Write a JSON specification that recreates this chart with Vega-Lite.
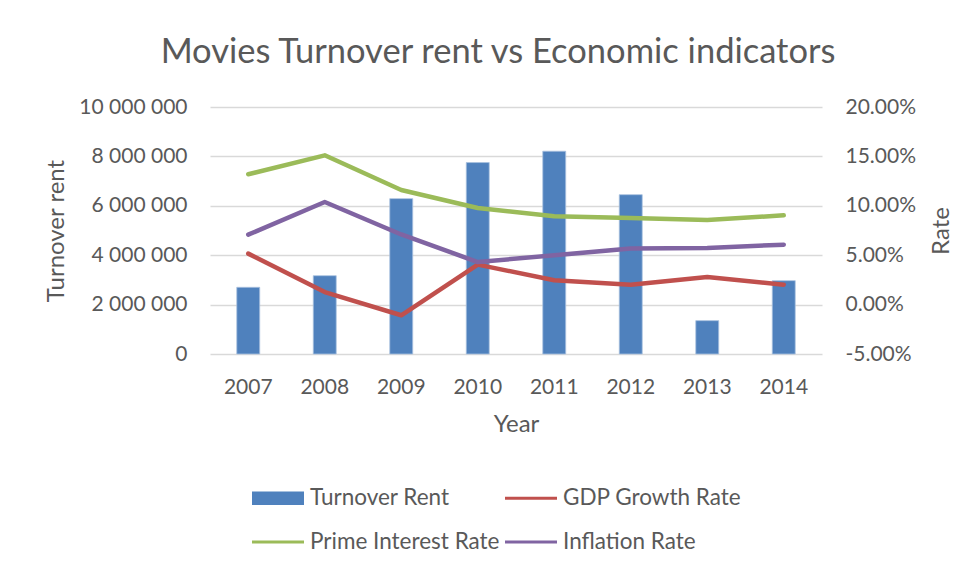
{
  "$schema": "https://vega.github.io/schema/vega-lite/v6.json",
  "width": 612,
  "height": 247,
  "autosize": {"type": "none"},
  "padding": {"left": 210, "top": 107, "right": 154, "bottom": 218},
  "background": "white",
  "title": {
    "text": "Movies Turnover rent vs Economic indicators",
    "font": "Lato",
    "fontSize": 34.5,
    "fontWeight": "normal",
    "color": "#595959",
    "anchor": "middle",
    "frame": "group",
    "offset": 26,
    "dx": -18
  },
  "config": {
    "locale": {
      "number": {"decimal": ".", "thousands": " ", "grouping": [3], "currency": ["$", ""], "minus": "-"}
    },
    "view": {"stroke": null},
    "axis": {
      "labelFont": "Lato",
      "labelFontSize": 21,
      "labelColor": "#595959",
      "titleFont": "Lato",
      "titleFontSize": 24,
      "titleFontWeight": "normal",
      "titleColor": "#595959",
      "domain": false,
      "ticks": false,
      "gridColor": "#D9D9D9",
      "gridWidth": 1.3
    },
    "legend": {
      "title": null,
      "orient": "none",
      "legendX": 42,
      "legendY": 365,
      "columns": 2,
      "direction": "horizontal",
      "padding": 0,
      "symbolSize": 2704,
      "labelFont": "Lato",
      "labelFontSize": 22.5,
      "labelColor": "#595959",
      "labelOffset": 6,
      "labelLimit": 400,
      "columnPadding": 5,
      "rowPadding": 6
    }
  },
  "data": {
    "values": [
      {"Year": "2007", "Turnover Rent": 2700000, "GDP Growth Rate": 0.0516, "Prime Interest Rate": 0.1319, "Inflation Rate": 0.0708},
      {"Year": "2008", "Turnover Rent": 3170000, "GDP Growth Rate": 0.0127, "Prime Interest Rate": 0.1511, "Inflation Rate": 0.1038},
      {"Year": "2009", "Turnover Rent": 6290000, "GDP Growth Rate": -0.0108, "Prime Interest Rate": 0.116, "Inflation Rate": 0.071},
      {"Year": "2010", "Turnover Rent": 7750000, "GDP Growth Rate": 0.0405, "Prime Interest Rate": 0.0978, "Inflation Rate": 0.0431},
      {"Year": "2011", "Turnover Rent": 8210000, "GDP Growth Rate": 0.0246, "Prime Interest Rate": 0.0894, "Inflation Rate": 0.0499},
      {"Year": "2012", "Turnover Rent": 6450000, "GDP Growth Rate": 0.0202, "Prime Interest Rate": 0.0877, "Inflation Rate": 0.0567},
      {"Year": "2013", "Turnover Rent": 1350000, "GDP Growth Rate": 0.0279, "Prime Interest Rate": 0.0856, "Inflation Rate": 0.0573},
      {"Year": "2014", "Turnover Rent": 2970000, "GDP Growth Rate": 0.0202, "Prime Interest Rate": 0.0904, "Inflation Rate": 0.0607}
    ]
  },
  "encoding": {
    "x": {
      "field": "Year",
      "type": "ordinal",
      "scale": {"paddingInner": 0.7, "paddingOuter": 0.35},
      "axis": {"title": "Year", "labelAngle": 0, "labelPadding": 22, "titlePadding": 15, "grid": false}
    }
  },
  "layer": [
    {
      "mark": {"type": "bar", "stroke": "#A9C1E0", "strokeWidth": 0.8},
      "encoding": {
        "y": {
          "field": "Turnover Rent",
          "type": "quantitative",
          "scale": {"domain": [0, 10000000]},
          "axis": {
            "title": "Turnover rent",
            "values": [0, 2000000, 4000000, 6000000, 8000000, 10000000],
            "format": ",.0f",
            "labelPadding": 23,
            "titlePadding": 10,
            "grid": true
          }
        },
        "color": {
          "datum": "Turnover Rent",
          "type": "nominal",
          "scale": {
            "domain": ["Turnover Rent", "GDP Growth Rate", "Prime Interest Rate", "Inflation Rate"],
            "range": ["#4F81BD", "#C0504D", "#9BBB59", "#8064A2"]
          },
          "legend": {
            "title": null,
            "encode": {
              "symbols": {
                "update": {
                  "shape": {"signal": "datum.label === 'Turnover Rent' ? 'M-1,-0.26H1V0.26H-1Z' : 'M-1,-0.056H1V0.056H-1Z'"},
                  "fill": {"scale": "color", "field": "value"},
                  "stroke": {"value": "transparent"},
                  "strokeWidth": {"value": 0},
                  "opacity": {"value": 1}
                }
              }
            }
          }
        }
      }
    },
    {
      "transform": [{"fold": ["GDP Growth Rate", "Prime Interest Rate", "Inflation Rate"], "as": ["Series", "Rate"]}],
      "mark": {"type": "line", "interpolate": "linear", "strokeWidth": 4.5, "strokeCap": "round", "strokeJoin": "round"},
      "encoding": {
        "y": {
          "field": "Rate",
          "type": "quantitative",
          "scale": {"domain": [-0.05, 0.2]},
          "axis": {
            "orient": "right",
            "title": "Rate",
            "titleAngle": 270,
            "values": [-0.05, 0, 0.05, 0.1, 0.15, 0.2],
            "format": ".2%",
            "labelPadding": 23,
            "titlePadding": 38,
            "grid": false
          }
        },
        "color": {
          "field": "Series",
          "type": "nominal",
          "legend": {
            "title": null,
            "encode": {
              "symbols": {
                "update": {
                  "shape": {"signal": "datum.label === 'Turnover Rent' ? 'M-1,-0.26H1V0.26H-1Z' : 'M-1,-0.056H1V0.056H-1Z'"},
                  "fill": {"scale": "color", "field": "value"},
                  "stroke": {"value": "transparent"},
                  "strokeWidth": {"value": 0},
                  "opacity": {"value": 1}
                }
              }
            }
          }
        }
      }
    }
  ],
  "resolve": {"scale": {"y": "independent"}}
}
